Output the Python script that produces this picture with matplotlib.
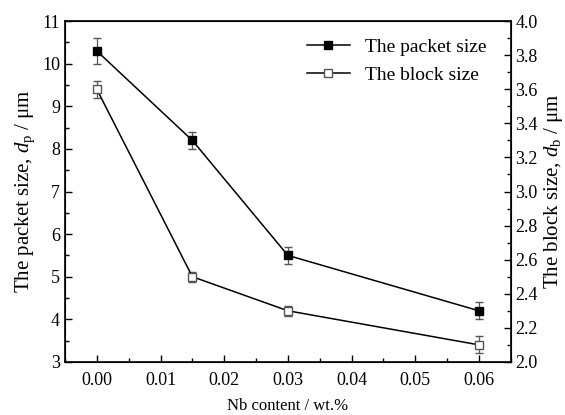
import matplotlib
matplotlib.use("Agg")
import matplotlib.pyplot as plt
from matplotlib.lines import Line2D
from matplotlib.ticker import MultipleLocator

plt.rcParams['font.family'] = 'Liberation Serif'
plt.rcParams['mathtext.fontset'] = 'custom'
plt.rcParams['mathtext.it'] = 'Liberation Serif:italic'
plt.rcParams['mathtext.rm'] = 'Liberation Serif'

# data
nb = [0.0, 0.015, 0.03, 0.06]
packet = [10.3, 8.2, 5.5, 4.2]
packet_err = [0.3, 0.2, 0.2, 0.2]
block = [3.6, 2.5, 2.3, 2.1]
block_err = [0.05, 0.03, 0.03, 0.05]

fig = plt.figure(figsize=(5.65, 4.15), dpi=100)
ax = fig.add_axes([0.115, 0.128, 0.789, 0.821])
ax2 = ax.twinx()

ax.errorbar(nb, packet, yerr=packet_err, color='black', marker='s', ms=6,
            mfc='black', lw=1.1, ecolor='#555555', elinewidth=0.9, capsize=3)
ax2.errorbar(nb, block, yerr=block_err, color='black', marker='s', ms=6,
             mfc='white', mec='#555555', lw=1.1, ecolor='#555555', elinewidth=0.9,
             capsize=3)

ax.set_xlim(-0.005, 0.065)
ax.set_ylim(3, 11)
ax2.set_ylim(2.0, 4.0)

ax.xaxis.set_major_locator(MultipleLocator(0.01))
ax.xaxis.set_minor_locator(MultipleLocator(0.005))
ax.yaxis.set_major_locator(MultipleLocator(1))
ax.yaxis.set_minor_locator(MultipleLocator(0.5))
ax2.yaxis.set_major_locator(MultipleLocator(0.2))
ax2.yaxis.set_minor_locator(MultipleLocator(0.1))
ax.xaxis.set_major_formatter(plt.FormatStrFormatter('%.2f'))
ax2.yaxis.set_major_formatter(plt.FormatStrFormatter('%.1f'))

for a in (ax, ax2):
    a.tick_params(which='major', direction='in', length=5, width=1, labelsize=13)
    a.tick_params(which='minor', direction='in', length=3, width=1)
ax.tick_params(axis='x', pad=7)
for s in ax.spines.values():
    s.set_linewidth(1.2)

ax.set_xlabel('Nb content / wt.%', fontsize=12, labelpad=7)
ax.set_ylabel('The packet size, $d_\\mathregular{p}$ / μm', fontsize=15, labelpad=4)
ax2.set_ylabel('The block size, $d_\\mathregular{b}$ / μm', fontsize=15, labelpad=3)

handles = [Line2D([], [], color='black', marker='s', ms=6, mfc='black', lw=1.1),
           Line2D([], [], color='black', marker='s', ms=6, mfc='white',
                  mec='#555555', lw=1.1)]
ax.legend(handles, ['The packet size', 'The block size'], loc='upper right',
          frameon=False, fontsize=14, handlelength=2.2, bbox_to_anchor=(0.985, 1.0))

fig.savefig('out.png', dpi=100)
